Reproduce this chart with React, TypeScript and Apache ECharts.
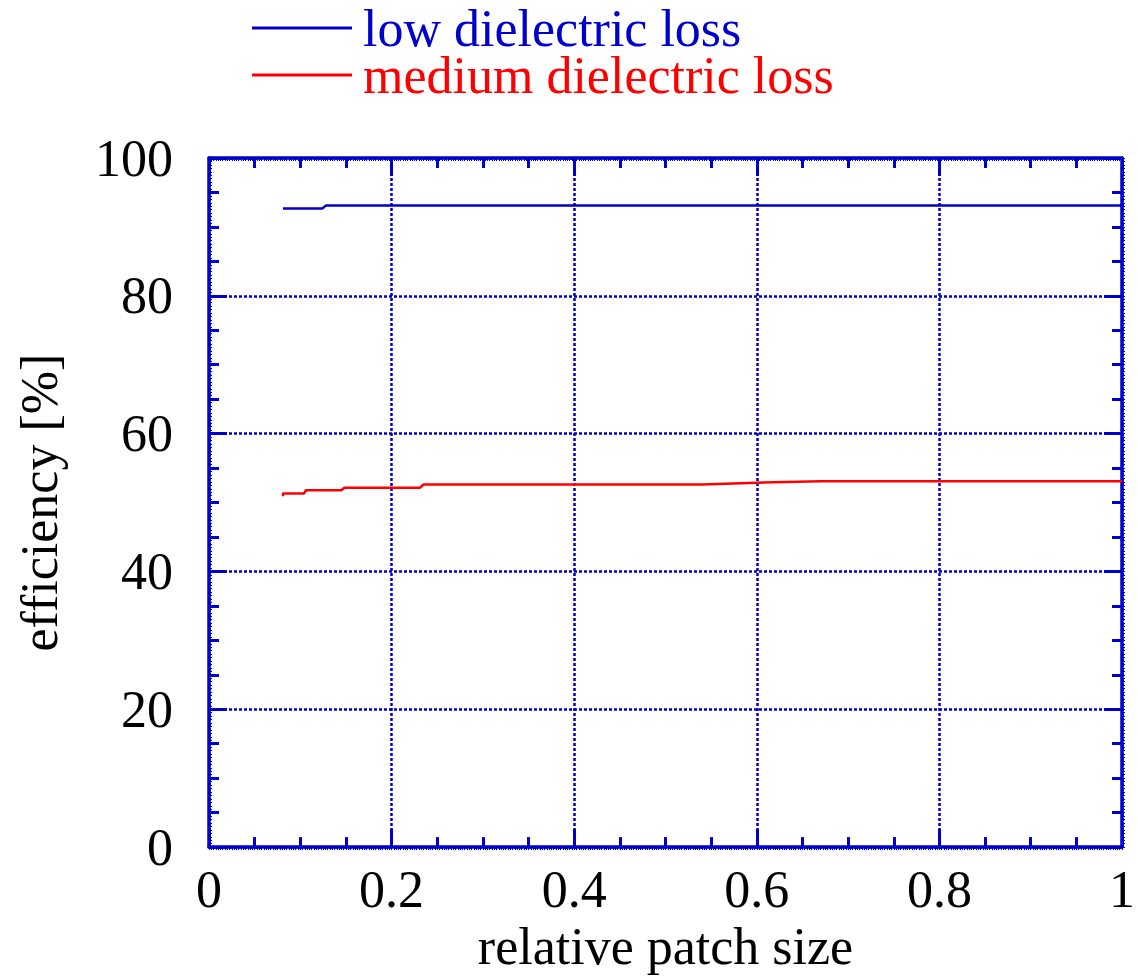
import React, { useEffect, useRef } from "react";
import * as echarts from "echarts";

const xTicks = [0, 0.2, 0.4, 0.6, 0.8, 1];
const yTicks = [0, 20, 40, 60, 80, 100];

const lowX = [0.081, 0.124, 0.128, 1.0];
const lowY = [92.66, 92.66, 93.09, 93.09];

const medX = [0.081, 0.081, 0.104, 0.106, 0.145, 0.148, 0.231, 0.235, 0.54, 0.6, 0.67, 1.0];
const medY = [50.9, 51.3, 51.3, 51.78, 51.78, 52.14, 52.14, 52.62, 52.62, 52.88, 53.08, 53.08];

const seriesNames = ["low dielectric loss", "medium dielectric loss"];
const seriesColors = ["#0000cc", "#ff0000"];

const AX = "#0000cc";
const FONT = "Liberation Serif";

export default function App() {
  const ref = useRef<HTMLDivElement>(null);
  useEffect(() => {
    if (!ref.current) return;
    const chart = echarts.init(ref.current, null, { renderer: "svg" });
    const toPairs = (xs: number[], ys: number[]) => xs.map((x, i) => [x, ys[i]]);

    const mainAxisCommon = (pos: string, isMain: boolean, ticks: number[]) => ({
      type: "value",
      position: pos,
      min: ticks[0],
      max: ticks[ticks.length - 1],
      interval: ticks[1] - ticks[0],
      axisLine: { show: true, onZero: false, lineStyle: { color: AX, width: 3.5 } },
      axisTick: { show: true, inside: true, length: 18, lineStyle: { color: AX, width: 3 } },
      minorTick: { show: true, splitNumber: 4, length: 10, lineStyle: { color: AX, width: 3 } },
      splitLine: isMain
        ? { show: true, lineStyle: { color: AX, width: 2.5, type: [3, 2] } }
        : { show: false },
      minorSplitLine: { show: false },
    });

    const combAxis = (pos: string, max: number, interval: number, inside: boolean) => ({
      type: "value",
      position: pos,
      min: 0,
      max,
      interval,
      axisLine: { show: false, onZero: false },
      axisTick: { show: true, inside, length: 3, lineStyle: { color: AX, width: 1 } },
      axisLabel: { show: false },
      splitLine: { show: false },
    });

    chart.setOption({
      animation: false,
      backgroundColor: "#ffffff",
      legend: {
        orient: "vertical",
        left: 252,
        top: 2,
        padding: 0,
        itemWidth: 100,
        itemHeight: 3,
        itemGap: -5,
        icon: "rect",
        textStyle: { fontFamily: FONT, fontSize: 52, lineHeight: 48, padding: [0, 0, 0, 6] },
        data: seriesNames.map((n, i) => ({ name: n, textStyle: { color: seriesColors[i] } })),
      },
      grid: { left: 209, right: 11, top: 158, bottom: 124, containLabel: false },
      xAxis: [
        {
          ...mainAxisCommon("bottom", true, xTicks),
          name: "relative patch size",
          nameLocation: "middle",
          nameGap: 60,
          nameTextStyle: { fontFamily: FONT, fontSize: 52, color: "#000" },
          axisLabel: { show: true, margin: 16, color: "#000", fontFamily: FONT, fontSize: 52 },
        },
        { ...mainAxisCommon("top", false, xTicks), axisLabel: { show: false } },
        combAxis("bottom", 1, 0.0025, false),
        combAxis("top", 1, 0.0025, true),
      ],
      yAxis: [
        {
          ...mainAxisCommon("left", true, yTicks),
          name: "efficiency [%]",
          nameLocation: "middle",
          nameGap: 144,
          nameRotate: 90,
          nameTextStyle: { fontFamily: FONT, fontSize: 52, color: "#000" },
          axisLabel: { show: true, margin: 36, color: "#000", fontFamily: FONT, fontSize: 52 },
        },
        { ...mainAxisCommon("right", false, yTicks), axisLabel: { show: false } },
        combAxis("left", 100, 0.5, true),
        combAxis("right", 100, 0.5, false),
      ],
      series: [
        {
          name: seriesNames[0],
          type: "line",
          xAxisIndex: 0,
          yAxisIndex: 0,
          data: toPairs(lowX, lowY),
          showSymbol: false,
          symbol: "none",
          lineStyle: { color: seriesColors[0], width: 2.5 },
          itemStyle: { color: seriesColors[0] },
          z: 5,
        },
        {
          name: seriesNames[1],
          type: "line",
          xAxisIndex: 0,
          yAxisIndex: 0,
          data: toPairs(medX, medY),
          showSymbol: false,
          symbol: "none",
          lineStyle: { color: seriesColors[1], width: 2.5 },
          itemStyle: { color: seriesColors[1] },
          z: 5,
        },
      ],
    });
    return () => chart.dispose();
  }, []);
  return (
    <div
      ref={ref}
      style={{ position: "fixed", left: 0, top: 0, width: 1138, height: 977, background: "#fff" }}
    />
  );
}
